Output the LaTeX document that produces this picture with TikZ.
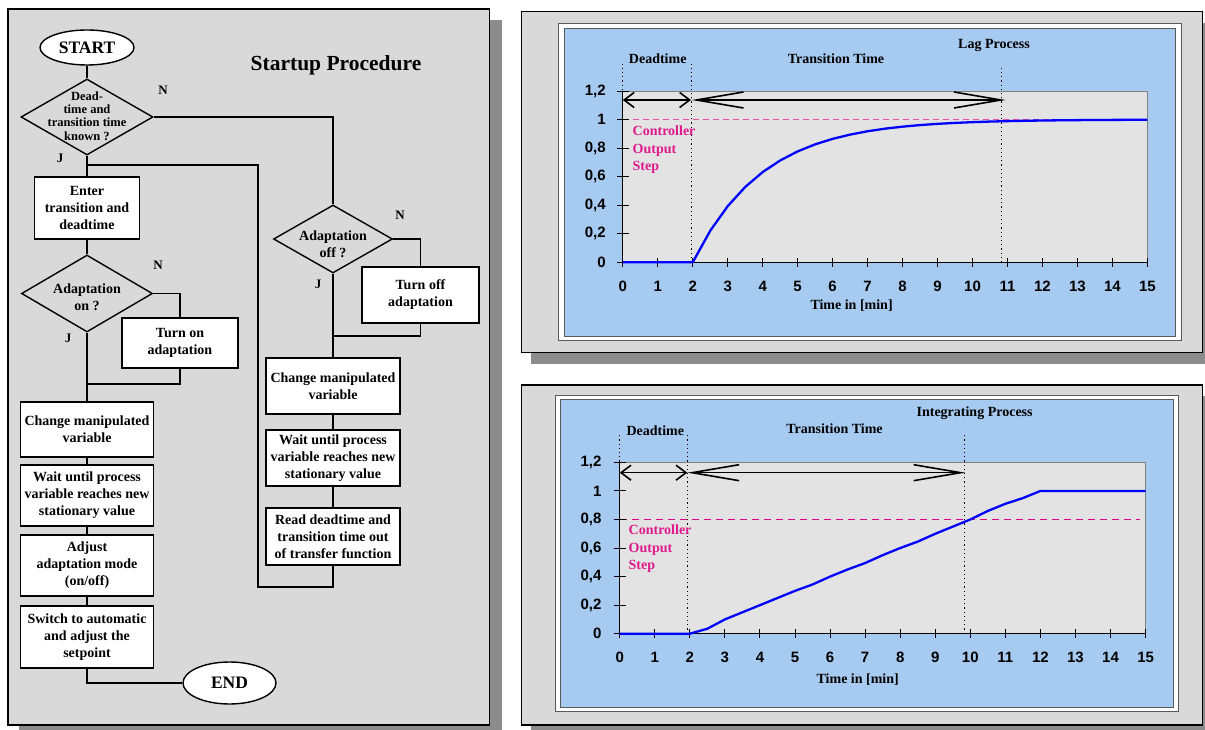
\documentclass[tikz,border=0pt]{standalone}
\usepackage{fontspec}
\setmainfont{Liberation Serif}
\newfontfamily\arialf{Liberation Sans}
\usetikzlibrary{shapes.geometric,arrows.meta}
\definecolor{panelgray}{RGB}{217,217,217}
\definecolor{shadowgray}{RGB}{140,140,140}
\definecolor{chartblue}{RGB}{166,202,240}
\definecolor{plotgray}{RGB}{227,227,227}
\definecolor{pinkdash}{RGB}{232,80,165}
\definecolor{magdash}{RGB}{225,0,130}
\definecolor{magtext}{RGB}{222,25,140}
\definecolor{curveblue}{RGB}{0,0,255}
\definecolor{framegray}{RGB}{90,90,90}
\newcommand{\myfs}[2]{\fontsize{#1}{#2}\selectfont\bfseries}
\tikzset{
  panel/.style={fill=panelgray, draw=black, line width=1.5pt},
  shadowbox/.style={fill=shadowgray},
  procbox/.style={draw, line width=1.4pt, fill=white, align=center, inner sep=0pt, font=\myfs{14}{17}},
  dia/.style={diamond, draw, line width=1.4pt, inner sep=0pt},
  diatext/.style={align=center, inner sep=0pt, font=\myfs{14}{17}},
  term/.style={ellipse, draw, line width=1.4pt, fill=white, inner sep=0pt, font=\myfs{17.5}{20}},
  flow/.style={line width=1.4pt},
  yn/.style={font=\myfs{13}{15}, inner sep=0pt},
  charttext/.style={font=\myfs{14}{16}, inner sep=0pt},
  magstyle/.style={font=\myfs{14}{17.5}, text=magtext, align=left, inner sep=0pt, anchor=west},
  ylab/.style={font=\arialf\fontsize{15}{17}\selectfont\bfseries, anchor=east, inner sep=0pt},
  xlab/.style={font=\arialf\fontsize{15}{17}\selectfont\bfseries, inner sep=0pt},
  dotline/.style={line width=0.9pt, dash pattern=on 1.2pt off 3pt},
  smallarrow/.style={line width=1.6pt, {Straight Barb[length=10pt,width=15pt]}-{Straight Barb[length=10pt,width=15pt]}},
  bigarrow/.style={line width=1.6pt, {Straight Barb[length=47pt,width=16pt]}-{Straight Barb[length=47pt,width=16pt]}},
  curve/.style={curveblue, line width=2.3pt, line join=round},
}
\begin{document}
\begin{tikzpicture}[x=1pt,y=-1pt]
\useasboundingbox (0,0) rectangle (1205,730);
\clip (0,0) rectangle (1205,730);

% ---------------- panels ----------------
\fill[shadowbox] (19,20) rectangle (501.7,740);
\draw[panel] (8,9) rectangle (489.5,725);
\fill[shadowbox] (531,23) rectangle (1215,364);
\draw[panel] (521.7,11.7) rectangle (1202.3,352.3);
\fill[shadowbox] (531,396) rectangle (1215,740);
\draw[panel] (521.7,385) rectangle (1202.3,725);

% ---------------- flowchart ----------------
\node[font=\myfs{21.5}{24}, inner sep=0pt] (title) at (336,65) {Startup Procedure};

\node[term, minimum width=94pt, minimum height=35pt] (start) at (87,47.5) {START};
\node[dia, minimum width=132pt, minimum height=76pt] (d1) at (87,117) {};
\node[diatext, font=\myfs{12.5}{13.3}] (d1t) at (87,116) {Dead-\\time and\\transition time\\known ?};
\node[procbox, minimum width=105pt, minimum height=62pt] (enter) at (87,208) {Enter\\transition and\\deadtime};
\node[dia, minimum width=131pt, minimum height=77pt] (d2) at (87,293.5) {};
\node[diatext] (d2t) at (87,297) {Adaptation\\on ?};
\node[procbox, minimum width=116pt, minimum height=50pt] (turnon) at (180,343) {Turn on\\adaptation};
\node[procbox, minimum width=133pt, minimum height=55pt] (lchange) at (87,429.5) {Change manipulated\\variable};
\node[procbox, minimum width=133pt, minimum height=61pt] (lwait) at (87,495.5) {Wait until process\\variable reaches new\\stationary value};
\node[procbox, minimum width=133pt, minimum height=61pt] (adjust) at (87,565.5) {Adjust\\adaptation mode\\(on/off)};
\node[procbox, minimum width=133pt, minimum height=62pt] (switch) at (87,637) {Switch to automatic\\and adjust the\\setpoint};
\node[term, minimum width=93pt, minimum height=42pt] (end) at (229.5,683) {END};

\node[dia, minimum width=119pt, minimum height=68pt] (d3) at (333,239) {};
\node[diatext] (d3t) at (333,244) {Adaptation\\off ?};
\node[procbox, minimum width=117pt, minimum height=56pt] (turnoff) at (420.5,295) {Turn off\\adaptation};
\node[procbox, minimum width=134pt, minimum height=56pt] (rchange) at (333,386) {Change manipulated\\variable};
\node[procbox, minimum width=134pt, minimum height=56pt] (rwait) at (333,458) {Wait until process\\variable reaches new\\stationary value};
\node[procbox, minimum width=134pt, minimum height=57pt] (read) at (333,536.5) {Read deadtime and\\transition time out\\of transfer function};

\node[yn] (n1) at (163,90) {N};
\node[yn] (j1) at (60,158) {J};
\node[yn] (n2) at (158,265) {N};
\node[yn] (j2) at (68,338) {J};
\node[yn] (n3) at (400,215) {N};
\node[yn] (j3) at (318,284) {J};

\coordinate (jA) at (87,165);
\coordinate (jB) at (258,165);
\coordinate (jC) at (258,587);
\coordinate (jD) at (333,587);
\coordinate (jE) at (87,384);
\coordinate (jF) at (333,336);

\draw[flow] (start) -- (d1.north);
\draw[flow] (d1.east) -| (d3.north);
\draw[flow] (d1.south) -- (enter.north);
\draw[flow] (jA) -- (jB) -- (jC) -- (jD) -- (read.south);
\draw[flow] (enter.south) -- (d2.north);
\draw[flow] (d2.east) -| (turnon.north);
\draw[flow] (turnon.south) |- (jE);
\draw[flow] (d2.south) -- (lchange.north);
\draw[flow] (lchange.south) -- (lwait.north);
\draw[flow] (lwait.south) -- (adjust.north);
\draw[flow] (adjust.south) -- (switch.north);
\draw[flow] (switch.south) |- (end.west);
\draw[flow] (d3.east) -| (turnoff.north);
\draw[flow] (turnoff.south) |- (jF);
\draw[flow] (d3.south) -- (rchange.north);
\draw[flow] (rchange.south) -- (rwait.north);
\draw[flow] (rwait.south) -- (read.north);

% ---------------- top chart ----------------
\draw[fill=white, draw=framegray, line width=0.8pt] (558.3,23.3) rectangle (1181,340);
\draw[fill=chartblue, draw=framegray, line width=0.8pt] (564.3,28.3) rectangle (1175,336);
\begin{scope}[shift={(622.8,262.3)}, x=34.97pt, y=142.75pt]
  \fill[plotgray] (0,0) rectangle (15,1.2);
  \draw[gray, line width=0.6pt] (0,1.2) -- (15,1.2) -- (15,0);
  \draw[pinkdash, line width=1.4pt, dash pattern=on 6pt off 4pt] (0,1) -- (15,1);
  \draw[line width=1pt] (0,1.2) -- (0,0) -- (15,0);
  \foreach \i in {0,...,15} {
    \draw[line width=1pt] (\i,0) ++(0,-4.5pt) -- ++(0,9pt);
    \node[xlab] (tx\i) at (\i,0) [yshift=-23.7pt] {\i};
  }
  \foreach \k/\lab in {0/0,1/{0,2},2/{0,4},3/{0,6},4/{0,8},5/1,6/{1,2}} {
    \draw[line width=1pt] (0,{\k*0.2}) ++(-6pt,0) -- ++(12pt,0);
    \node[ylab] (ty\k) at (0,{\k*0.2}) [xshift=-17pt] {\lab};
  }
  \draw[dotline] (0,0) -- (0,1.403);
  \draw[dotline] (1.97,0) -- (1.97,1.403);
  \draw[dotline] (10.83,0) -- (10.83,1.382);
  \draw[curve] (0,0) -- (2,0) -- plot[domain=2:15, samples=27] (\x,{1-exp(-(\x-2)/2)});
  \draw[smallarrow] (0,1.137) -- (1.95,1.137);
  \draw[bigarrow] (1.97,1.137) -- (10.95,1.137);
\end{scope}
\node[charttext] (tdead) at (657.7,58.3) {Deadtime};
\node[charttext] (ttrans) at (836,58.3) {Transition Time};
\node[charttext] (tlag) at (994,45) {Lag Process};
\node[charttext] (ttime) at (851.6,306) {Time in [min]};
\node[magstyle] (tctl) at (632.5,150) {Controller\\Output\\Step};

% ---------------- bottom chart ----------------
\draw[fill=white, draw=framegray, line width=0.8pt] (555.5,395) rectangle (1178.6,711.7);
\draw[fill=chartblue, draw=framegray, line width=0.8pt] (560.8,399) rectangle (1173.7,707.7);
\begin{scope}[shift={(619.7,633.7)}, x=35.06pt, y=142.75pt]
  \fill[plotgray] (0,0) rectangle (15,1.2);
  \draw[gray, line width=0.6pt] (0,1.2) -- (15,1.2) -- (15,0);
  \draw[magdash, line width=0.9pt, dash pattern=on 7pt off 5pt] (0,0.8) -- (14.85,0.8);
  \draw[line width=1pt] (0,1.2) -- (0,0) -- (15,0);
  \foreach \i in {0,...,15} {
    \draw[line width=1pt] (\i,0) ++(0,-4.5pt) -- ++(0,9pt);
    \node[xlab] (bx\i) at (\i,0) [yshift=-24pt] {\i};
  }
  \foreach \k/\lab in {0/0,1/{0,2},2/{0,4},3/{0,6},4/{0,8},5/1,6/{1,2}} {
    \draw[line width=1pt] (0,{\k*0.2}) ++(-6pt,0) -- ++(12pt,0);
    \node[ylab] (by\k) at (0,{\k*0.2}) [xshift=-18pt] {\lab};
  }
  \draw[dotline] (0,0) -- (0,1.399);
  \draw[dotline] (1.93,0) -- (1.93,1.399);
  \draw[dotline] (9.83,0) -- (9.83,1.392);
  \draw[curve] (0,0) -- (2,0) -- (2.5,0.035) -- (3,0.1) -- (4,0.2) -- (4.5,0.25) -- (5,0.3)
     -- (5.5,0.345) -- (6,0.4) -- (6.5,0.45) -- (7,0.495) -- (7.5,0.55) -- (8,0.6) -- (8.5,0.645)
     -- (9,0.7) -- (9.5,0.75) -- (10,0.8) -- (10.5,0.86) -- (11,0.91) -- (11.5,0.95) -- (12,1) -- (15,1);
  \draw[smallarrow] (0,1.128) -- (1.93,1.128);
  \draw[bigarrow] (1.93,1.128) -- (9.86,1.128);
\end{scope}
\node[charttext] (bdead) at (655.3,431) {Deadtime};
\node[charttext] (btrans) at (834.5,429) {Transition Time};
\node[charttext] (bint) at (974.6,413) {Integrating Process};
\node[charttext] (btime) at (857.7,680) {Time in [min]};
\node[magstyle] (bctl) at (628.5,549) {Controller\\Output\\Step};
\end{tikzpicture}
\end{document}
